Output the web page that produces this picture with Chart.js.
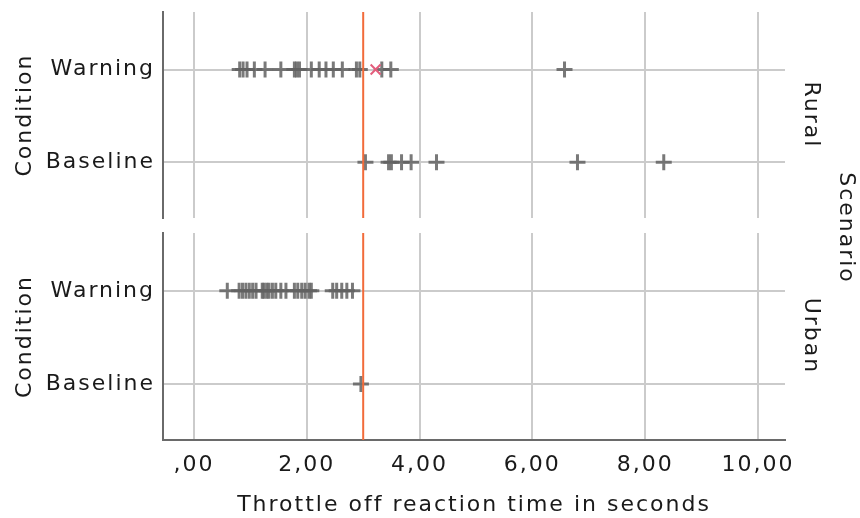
<!DOCTYPE html>
<html>
<head>
<meta charset="utf-8">
<script src="https://cdn.jsdelivr.net/npm/chart.js@4/dist/chart.umd.min.js"></script>
<style>
  html, body { margin: 0; padding: 0; background: #fff; }
  #wrap { position: relative; width: 860px; height: 518px; overflow: hidden; font-family: "DejaVu Sans", sans-serif; }
  #topChart { position: absolute; left: 0; top: 0; }
  #bottomChart { position: absolute; left: 0; top: 222px; }
  .strip { position: absolute; writing-mode: vertical-rl; font-size: 22px; letter-spacing: 2px; color: #1a1a1a; transform: translate(-50%, -50%); white-space: nowrap; }
</style>
</head>
<body>
<div id="wrap">
  <canvas id="topChart" width="860" height="229"></canvas>
  <canvas id="bottomChart" width="860" height="296"></canvas>
  <div class="strip" style="left:812px; top:115px;">Rural</div>
  <div class="strip" style="left:812px; top:336px;">Urban</div>
  <div class="strip" style="left:847px; top:228px;">Scenario</div>
</div>
<script>
'use strict';

// categories on the y axis (value 0 = Baseline, 1 = Warning)
let conditions = ['Baseline', 'Warning'];

// reaction times (seconds)
let ruralWarning = [0.81, 0.87, 0.94, 1.07, 1.26, 1.54, 1.78, 1.82, 1.87, 2.08, 2.22, 2.34, 2.47, 2.63, 2.88, 2.94, 3.33, 3.49, 6.57];
let ruralWarningMark = [3.22];
let ruralBaseline = [3.04, 3.45, 3.5, 3.68, 3.85, 4.3, 6.8, 8.33];
let urbanWarning = [0.59, 0.8, 0.86, 0.92, 0.98, 1.04, 1.1, 1.21, 1.24, 1.29, 1.33, 1.39, 1.45, 1.54, 1.63, 1.78, 1.84, 1.91, 1.97, 2.04, 2.08, 2.46, 2.53, 2.62, 2.71, 2.81];
let urbanBaseline = [2.96];

let xTicks = [0, 2, 4, 6, 8, 10];
let xTickLabels = [',00', '2,00', '4,00', '6,00', '8,00', '10,00'];
let cutoff = 3;

let font = { family: 'DejaVu Sans', size: 22 };
let textColor = '#1a1a1a';
let gridColor = '#cbcbcb';
let markColor = 'rgba(98, 98, 98, 0.85)';

// wider text, closer to the original typeface
let spacing = {
  id: 'spacing',
  beforeDraw: function (chart) {
    chart.ctx.letterSpacing = '2px';
  }
};

function points(values, row) {
  let out = [];
  for (let i = 0; i < values.length; i++) {
    out.push({ x: values[i], y: row });
  }
  return out;
}

function makePanel(canvasElem, warning, baseline, marks, showX) {
  let yMin = -0.6;
  let yMax = 1.62;

  let datasets = [{
    type: 'line',
    data: [{ x: cutoff, y: yMin }, { x: cutoff, y: yMax }],
    borderColor: '#f26b3a',
    borderWidth: 2,
    pointRadius: 0,
    order: 0
  }, {
    data: points(marks, 1),
    pointStyle: 'crossRot',
    pointRadius: 7,
    borderColor: '#e35d7c',
    borderWidth: 2,
    order: 0
  }, {
    data: points(warning, 1),
    pointStyle: 'cross',
    pointRadius: 8,
    borderColor: markColor,
    borderWidth: 3,
    order: 1
  }, {
    data: points(baseline, 0),
    pointStyle: 'cross',
    pointRadius: 8,
    borderColor: markColor,
    borderWidth: 3,
    order: 1
  }];

  let config = {
    type: 'scatter',
    data: { datasets: datasets },
    options: {
      responsive: false,
      animation: false,
      events: [],
      layout: { padding: { top: showX ? 10 : 12, right: 75, bottom: 0, left: 0 } },
      plugins: { legend: { display: false }, tooltip: { enabled: false } },
      scales: {
        x: {
          type: 'linear',
          min: -0.55,
          max: 10.48,
          afterBuildTicks: function (scale) {
            scale.ticks = xTicks.map(function (v) { return { value: v }; });
          },
          afterFit: function (scale) {
            scale.height = showX ? 78 : 0;
          },
          grid: { color: gridColor, lineWidth: 2, drawTicks: false },
          border: { display: showX, color: '#6a6a6a', width: 2 },
          ticks: {
            display: showX,
            padding: 12,
            color: textColor,
            font: font,
            maxRotation: 0,
            callback: function (value) {
              return xTickLabels[xTicks.indexOf(value)];
            }
          },
          title: {
            display: showX,
            text: 'Throttle off reaction time in seconds',
            color: textColor,
            font: font,
            padding: { top: 0, bottom: 0 }
          }
        },
        y: {
          type: 'linear',
          min: yMin,
          max: yMax,
          afterBuildTicks: function (scale) {
            scale.ticks = [{ value: 0 }, { value: 1 }];
          },
          afterFit: function (scale) {
            scale.width = 163;
            scale.paddingTop = 0;
            scale.paddingBottom = 0;
          },
          grid: { color: gridColor, lineWidth: 2, drawTicks: false },
          border: { color: '#6a6a6a', width: 2 },
          ticks: {
            padding: 8,
            color: textColor,
            font: font,
            callback: function (value) {
              return conditions[value];
            }
          },
          title: {
            display: true,
            text: 'Condition',
            color: textColor,
            font: font,
            padding: { top: 12, bottom: 0 }
          }
        }
      }
    },
    plugins: [spacing]
  };

  return new Chart(canvasElem, config);
}

makePanel(document.getElementById('topChart'), ruralWarning, ruralBaseline, ruralWarningMark, false);
makePanel(document.getElementById('bottomChart'), urbanWarning, urbanBaseline, [], true);
</script>
</body>
</html>
